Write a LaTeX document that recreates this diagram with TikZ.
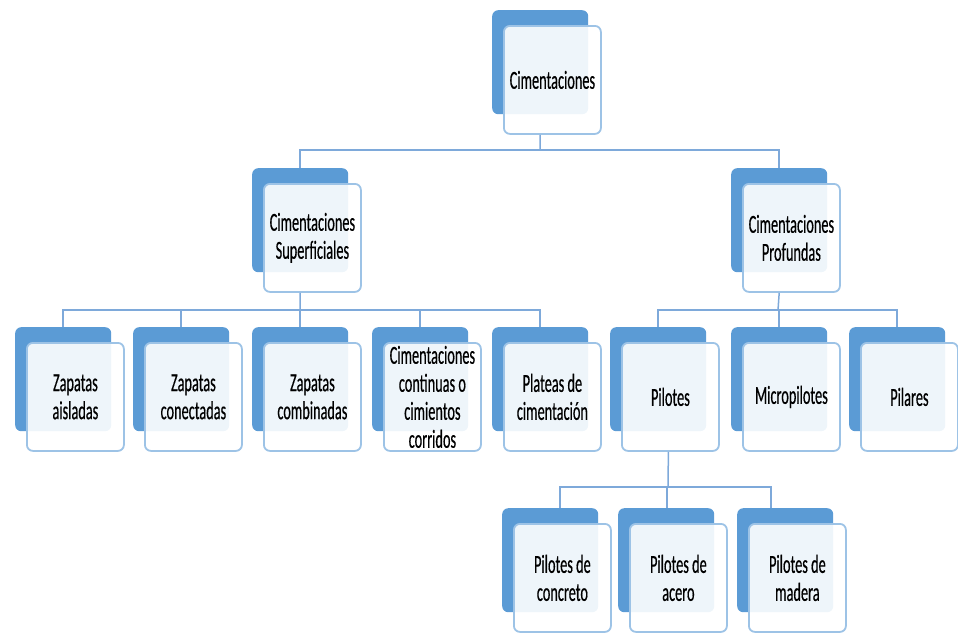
\documentclass[tikz,border=0pt]{standalone}
\usepackage{fontspec}
\newfontfamily\cf[FakeStretch=0.55,FakeBold=0.4]{Carlito}
\definecolor{backblue}{HTML}{5B9BD5}
\definecolor{edgeblue}{HTML}{9DC3E6}
\definecolor{lineblue}{HTML}{7EA9DA}
\begin{document}
\begin{tikzpicture}[x=1pt,y=-1pt,
  back/.style={anchor=north west,minimum width=96pt,minimum height=104pt,inner sep=0pt,
    rounded corners=6pt,fill=backblue},
  front/.style={anchor=north west,minimum width=97pt,minimum height=108pt,inner sep=0pt,
    rounded corners=6pt,draw=edgeblue,line width=1.8pt,fill=white,fill opacity=0.9,text opacity=1,
    align=center,font=\cf\fontsize{26}{28}\selectfont},
  conn/.style={draw=lineblue,line width=1.5pt}]
\useasboundingbox (0,0) rectangle (958,635);
\newcommand\bx[4]{%
  \node[back] (#1B) at (#2,#3) {};
  \node[front] (#1) at (#2+11,#3+15) {#4};}
% level 1
\bx{top}{492}{10}{Cimentaciones}
% level 2
\bx{sup}{252}{168}{Cimentaciones\\Superficiales}
\bx{pro}{731}{168}{Cimentaciones\\Profundas}
% level 3
\bx{za}{15}{327}{Zapatas\\aisladas}
\bx{zc}{133}{327}{Zapatas\\conectadas}
\bx{zb}{252}{327}{Zapatas\\combinadas}
\bx{cc}{372}{327}{Cimentaciones\\continuas o\\cimientos\\corridos}
\bx{pl}{492}{327}{Plateas de\\cimentación}
\bx{pi}{610}{327}{Pilotes}
\bx{mi}{731}{327}{Micropilotes}
\bx{pa}{849}{327}{Pilares}
% level 4
\bx{pc}{502}{508}{Pilotes de\\concreto}
\bx{pac}{618}{508}{Pilotes de\\acero}
\bx{pm}{737}{508}{Pilotes de\\madera}
% buses
\coordinate (bus1) at (540,150);
\coordinate (bus2) at (300,310);
\coordinate (bus3) at (778,310);
\coordinate (bus4) at (668,487);
% connectors
\draw[conn] (topB |- top.south) -- (bus1);
\draw[conn] (supB.north) |- (bus1) -| (proB.north);
\draw[conn] (supB |- sup.south) -- (bus2);
\draw[conn] (zaB.north) |- (bus2) -| (plB.north);
\draw[conn] (zcB.north) -- (zcB.north |- bus2);
\draw[conn] (zbB.north) -- (zbB.north |- bus2);
\draw[conn] (ccB.north) -- (ccB.north |- bus2);
\draw[conn] (proB |- pro.south) -- (bus3);
\draw[conn] (piB.north) |- (bus3) -| (paB.north);
\draw[conn] (miB.north) -- (miB.north |- bus3);
\draw[conn] ([xshift=-2pt]pi.south) -- (bus4);
\draw[conn] ([xshift=10pt]pcB.north) |- (bus4) -| ([xshift=-14pt]pmB.north);
\draw[conn] ([xshift=1pt]pacB.north) -- ([xshift=1pt]pacB.north |- bus4);
\end{tikzpicture}
\end{document}
